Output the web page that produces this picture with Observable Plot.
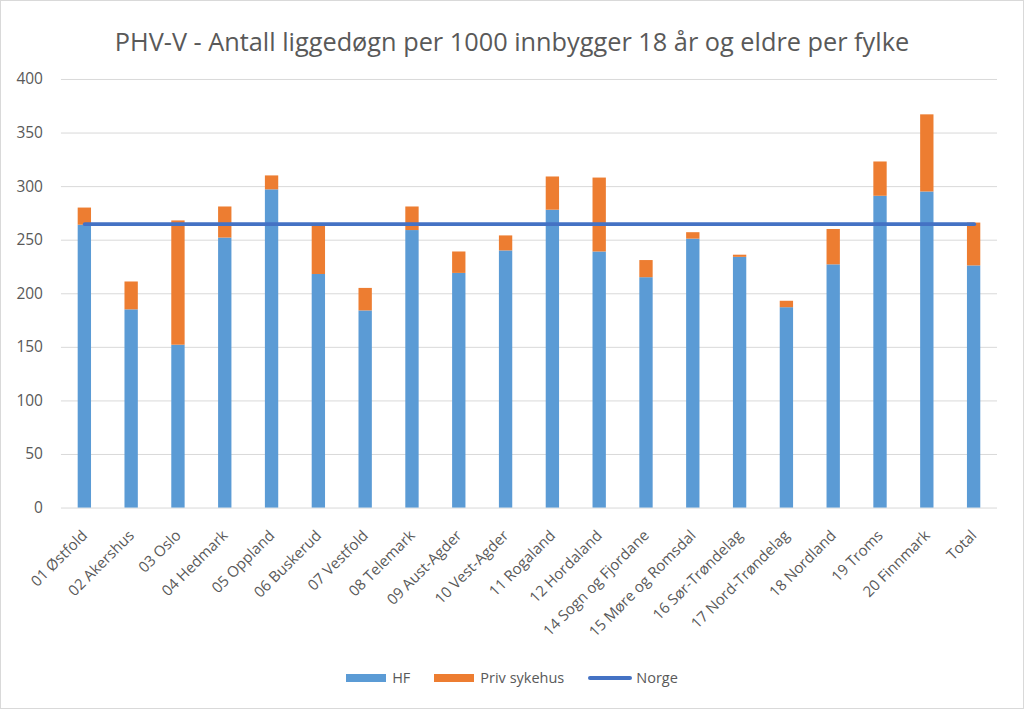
<!DOCTYPE html>
<html>
<head>
<meta charset="utf-8">
<script src="https://cdn.jsdelivr.net/npm/d3@7"></script>
<script src="https://cdn.jsdelivr.net/npm/@observablehq/plot@0.6"></script>
<style>
  html, body { margin: 0; padding: 0; background: #fff; }
  #frame { position: relative; width: 1022px; height: 707px; border: 1px solid #d9d9d9; overflow: hidden; font-family: "Open Sans", sans-serif; color: #595959; }
  #title { position: absolute; top: 23px; left: 0; width: 1022px; text-align: center; font-size: 25.3px; line-height: 34px; color: #595959; }
  #chart { position: absolute; top: 59px; left: -1px; }
  #legend { position: absolute; top: 667px; left: 0; width: 1022px; display: flex; justify-content: center; align-items: center; font-size: 14.5px; color: #595959; }
  .item { display: flex; align-items: center; margin: 0 12px; }
  .sw { width: 40px; height: 8px; margin-right: 6px; }
  .ln { width: 44px; height: 4px; border-radius: 2px; margin-right: 4px; }
</style>
</head>
<body>
<div id="frame">
  <div id="title">PHV-V - Antall liggedøgn per 1000 innbygger 18 år og eldre per fylke</div>
  <div id="chart"></div>
  <div id="legend"></div>
</div>
<script>
const categories = ["01 Østfold","02 Akershus","03 Oslo","04 Hedmark","05 Oppland","06 Buskerud","07 Vestfold","08 Telemark","09 Aust-Agder","10 Vest-Agder","11 Rogaland","12 Hordaland","14 Sogn og Fjordane","15 Møre og Romsdal","16 Sør-Trøndelag","17 Nord-Trøndelag","18 Nordland","19 Troms","20 Finnmark","Total"];
const hf   = [264, 185, 152, 252, 297, 218, 184, 259, 219, 240, 278, 239, 215, 251, 234, 187, 227, 291, 295, 226];
const priv = [16, 26, 116, 29, 13, 47, 21, 22, 20, 14, 31, 69, 16, 6, 2, 6, 33, 32, 72, 40];
const norge = [265, 265, 265, 265, 265, 265, 265, 265, 265, 265, 265, 265, 265, 265, 265, 265, 265, 265, 265, 265];
const yTicks = [0, 50, 100, 150, 200, 250, 300, 350, 400];
const seriesNames = ["HF", "Priv sykehus", "Norge"];
const colors = ["#5B9BD5", "#ED7D31", "#4472C4"];

const stacked = [];
categories.forEach((c, i) => {
  stacked.push({cat: c, series: seriesNames[0], value: hf[i]});
  stacked.push({cat: c, series: seriesNames[1], value: priv[i]});
});
const lineData = categories.map((c, i) => ({cat: c, value: norge[i]}));

const H = 600;
const chart = Plot.plot({
  width: 1024,
  height: H,
  marginTop: 19,
  marginBottom: H - 448,
  marginLeft: 61,
  marginRight: 26,
  style: {fontFamily: "Open Sans, sans-serif", fontSize: "15px", color: "#595959", background: "transparent"},
  x: {domain: categories, paddingInner: 0.715, paddingOuter: 0.3575, round: false, label: null},
  y: {domain: [0, 400], label: null},
  color: {domain: seriesNames, range: colors},
  marks: [
    Plot.ruleY(yTicks, {stroke: "#d9d9d9", strokeWidth: 1}),
    Plot.barY(stacked, {x: "cat", y: "value", fill: "series", order: seriesNames}),
    Plot.lineY(lineData, {x: "cat", y: "value", stroke: colors[2], strokeWidth: 4, strokeLinecap: "round"}),
    Plot.axisY(yTicks, {tickSize: 0, tickPadding: 18.5, fontSize: 15.5, fill: "#595959", label: null}),
    Plot.axisX({tickSize: 0, tickPadding: 25, tickRotate: -45, fontSize: 15, fill: "#595959", label: null})
  ]
});
document.getElementById("chart").appendChild(chart);

const legend = document.getElementById("legend");
seriesNames.forEach((name, i) => {
  const item = document.createElement("div");
  item.className = "item";
  const sw = document.createElement("div");
  sw.className = i === 2 ? "ln" : "sw";
  sw.style.background = colors[i];
  const t = document.createElement("span");
  t.textContent = name;
  item.appendChild(sw);
  item.appendChild(t);
  legend.appendChild(item);
});
</script>
</body>
</html>
